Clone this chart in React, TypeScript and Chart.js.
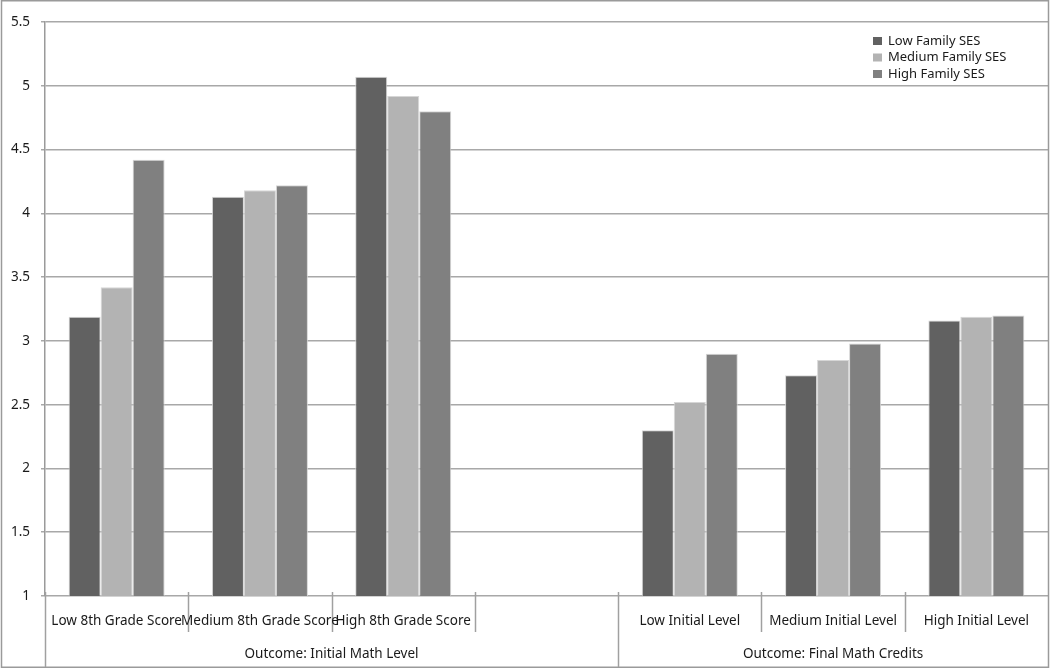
import React, { useEffect, useRef } from "react";
import { Chart, registerables } from "chart.js";

Chart.register(...registerables);

const categories = [
  "Low 8th Grade Score",
  "Medium 8th Grade Score",
  "High 8th Grade Score",
  "",
  "Low Initial Level",
  "Medium Initial Level",
  "High Initial Level",
];
const groupLabels = ["Outcome: Initial Math Level", "Outcome: Final Math Credits"];
const groupSpans = [4, 3];

const seriesNames = ["Low Family SES", "Medium Family SES", "High Family SES"];
const lowSES = [3.19, 4.13, 5.07, null, 2.3, 2.73, 3.16];
const mediumSES = [3.42, 4.18, 4.92, null, 2.52, 2.85, 3.19];
const highSES = [4.42, 4.22, 4.8, null, 2.9, 2.98, 3.2];
const seriesColors = ["#616161", "#b3b3b3", "#808080"];

const yMin = 1;
const yMax = 5.5;
const yStep = 0.5;

const FONT = "'Noto Sans', 'DejaVu Sans', sans-serif";

const frameAndAxisPlugin = {
  id: "frameAndAxis",
  afterDraw(chart: any) {
    const ctx = chart.ctx;
    const area = chart.chartArea;
    const xs = chart.scales.x;
    const n = categories.length;
    const centers = categories.map((_, i) => xs.getPixelForValue(i));
    const half = (centers[1] - centers[0]) / 2;
    const bounds: number[] = [];
    for (let i = 0; i <= n; i++) {
      bounds.push(i < n ? centers[i] - half : centers[n - 1] + half);
    }
    ctx.save();
    // outer frame
    ctx.strokeStyle = "#9a9a9a";
    ctx.lineWidth = 1.5;
    ctx.strokeRect(1.5, 0.75, 1047, 666.5);

    // group boundaries
    const groupBoundaryIdx: number[] = [0];
    let acc = 0;
    groupSpans.forEach((s) => {
      acc += s;
      groupBoundaryIdx.push(acc);
    });

    ctx.strokeStyle = "#a0a0a0";
    ctx.lineWidth = 1.5;
    for (let i = 0; i < n; i++) {
      const x = Math.round(bounds[i]) + 0.5;
      ctx.beginPath();
      ctx.moveTo(x, area.bottom - 4);
      ctx.lineTo(x, groupBoundaryIdx.includes(i) ? 667 : 632);
      ctx.stroke();
    }

    // category labels
    ctx.fillStyle = "#1a1a1a";
    ctx.font = `13.5px ${FONT}`;
    ctx.textAlign = "center";
    ctx.textBaseline = "middle";
    categories.forEach((c, i) => {
      if (c) ctx.fillText(c, centers[i], 621);
    });

    // group labels
    let start = 0;
    groupSpans.forEach((s, g) => {
      const l = bounds[start];
      const r = bounds[start + s];
      ctx.fillText(groupLabels[g], (l + r) / 2, 654);
      start += s;
    });

    // legend
    ctx.font = `13px ${FONT}`;
    ctx.textAlign = "left";
    seriesNames.forEach((name, i) => {
      const cy = 41 + i * 16.5;
      ctx.fillStyle = seriesColors[i];
      ctx.fillRect(873, cy - 4, 9, 8);
      ctx.fillStyle = "#1a1a1a";
      ctx.fillText(name, 888, cy);
    });
    ctx.restore();
  },
};

export default function App() {
  const ref = useRef<HTMLCanvasElement>(null);
  useEffect(() => {
    document.body.style.margin = "0";
    const canvas = ref.current;
    if (!canvas) return;
    const data = [lowSES, mediumSES, highSES];
    const chart = new Chart(canvas, {
      type: "bar",
      data: {
        labels: categories,
        datasets: seriesNames.map((name, i) => ({
          label: name,
          data: data[i] as any,
          backgroundColor: seriesColors[i],
          borderColor: "rgba(210,210,210,0.9)",
          borderWidth: 1,
          categoryPercentage: 0.67,
          barPercentage: 1,
        })),
      },
      options: {
        animation: false,
        responsive: false,
        maintainAspectRatio: false,
        layout: { padding: { top: 22, bottom: 75, left: 0, right: 2 } },
        plugins: {
          legend: { display: false },
          tooltip: { enabled: false },
          title: { display: false },
        },
        scales: {
          x: {
            display: false,
            offset: true,
          },
          y: {
            min: yMin,
            max: yMax,
            ticks: {
              stepSize: yStep,
              padding: 11,
              color: "#1a1a1a",
              font: { family: FONT, size: 13.5 },
              callback: (v: any) => String(v),
            },
            grid: {
              color: "#a8a8a8",
              lineWidth: 1.5,
              tickLength: 4,
              drawTicks: true,
            },
            border: { display: true, color: "#9a9a9a", width: 1.5 },
            afterFit: (scale: any) => {
              scale.width = 45;
            },
          },
        },
      },
      plugins: [frameAndAxisPlugin],
    });
    return () => chart.destroy();
  }, []);
  return (
    <div style={{ width: 1050, height: 671 }}>
      <canvas ref={ref} width={1050} height={671} style={{ display: "block" }} />
    </div>
  );
}
